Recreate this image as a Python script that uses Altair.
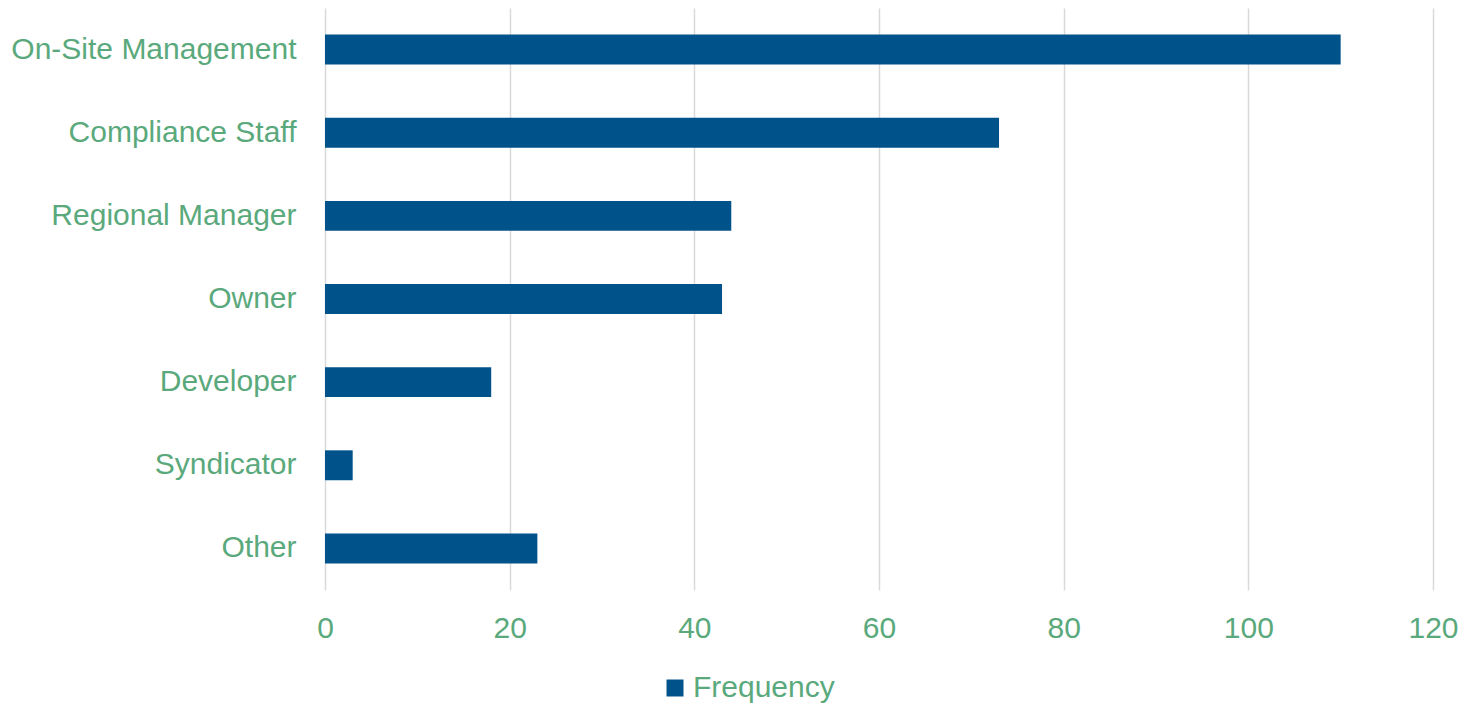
import altair as alt
import pandas as pd

categories = ["On-Site Management", "Compliance Staff", "Regional Manager", "Owner",
              "Developer", "Syndicator", "Other"]
values = [110, 73, 44, 43, 18, 3, 23]
series = ["Frequency"] * len(categories)

df = pd.DataFrame({"Role": categories, "Frequency": values, "Series": series})

GREEN = "#5aa97c"
BLUE = "#00538a"
FONT = "Liberation Sans"
FS = 30

chart = alt.Chart(df).mark_bar(color=BLUE).encode(
    x=alt.X("Frequency:Q",
            scale=alt.Scale(domain=[0, 120], nice=False),
            axis=alt.Axis(values=[0, 20, 40, 60, 80, 100, 120], title=None,
                          domain=False, ticks=False, grid=True, gridColor="#d9d9d9",
                          gridWidth=1.5, labelColor=GREEN, labelFont=FONT,
                          labelFontSize=FS, labelPadding=23, labelFlush=False,
                          labelOverlap=False)),
    y=alt.Y("Role:N", sort=categories,
            scale=alt.Scale(paddingInner=0.64, paddingOuter=0.32),
            axis=alt.Axis(title=None, domain=False, ticks=False, labelColor=GREEN,
                          labelFont=FONT, labelFontSize=FS, labelPadding=29,
                          labelLimit=400)),
    color=alt.Color("Series:N", scale=alt.Scale(range=[BLUE]),
                    legend=alt.Legend(title=None, orient="none", legendX=335,
                                      legendY=665, symbolType="square", symbolSize=289,
                                      symbolStrokeWidth=0, labelColor=GREEN,
                                      labelFont=FONT, labelFontSize=FS, labelOffset=3)),
).properties(
    width=1108, height=582,
    autosize=alt.AutoSizeParams(type="none"),
    padding={"left": 325, "top": 8, "right": 37, "bottom": 113},
).configure_view(stroke=None)

chart.save("out.html", embed_options={"renderer": "svg", "actions": False})
